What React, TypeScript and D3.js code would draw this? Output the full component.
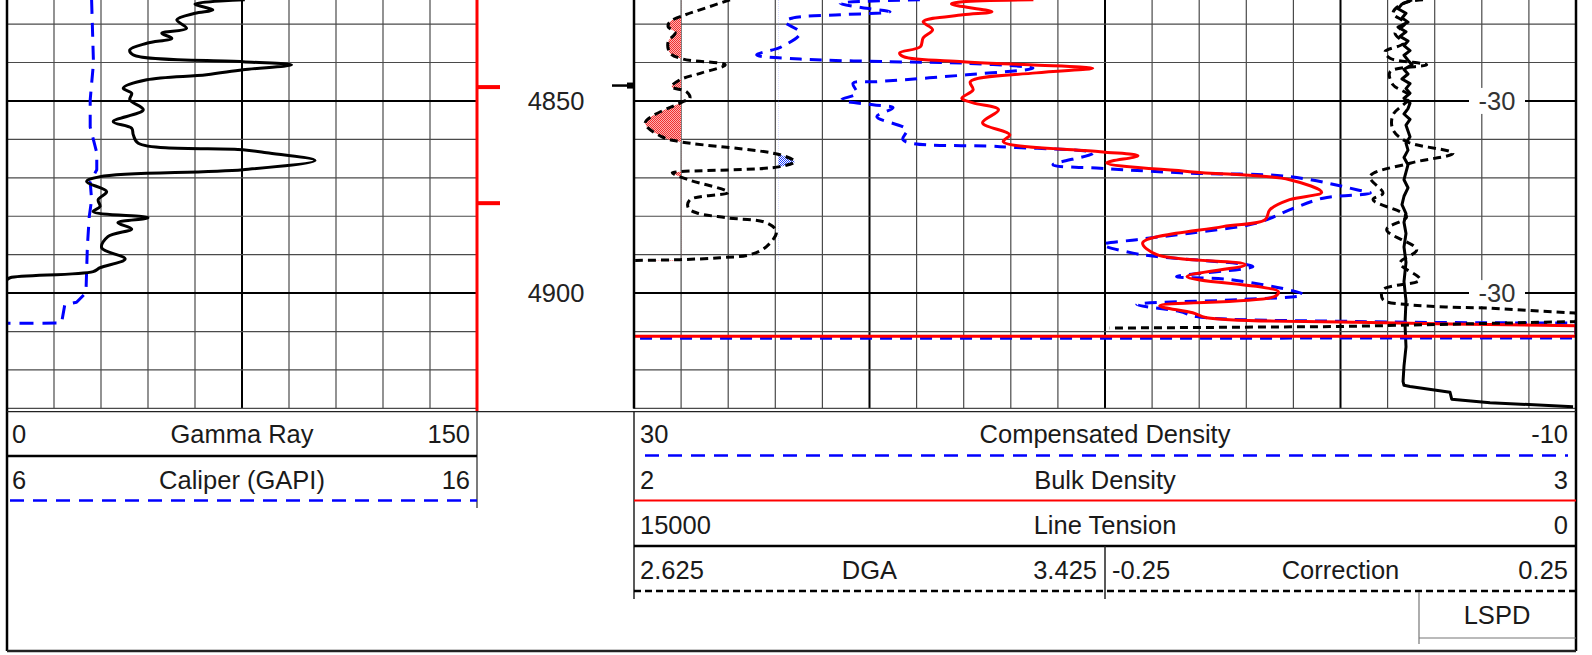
import React from 'react';
import * as d3 from 'd3';

// ---------------- DATA ----------------
const DEPTH_TOP = 4823.74;
const DEPTH_BOTTOM = 4930;
const depthGrid = d3.range(4830, 4931, 10);
const depthMajor = [4850, 4900];
const depthLabels = [4850, 4900];
const redFlagDepths = [4846.4, 4876.6];
const blackFlagDepths = [4846.0];
const rightLabelDepths = [4850, 4900];
const rightLabelText = '-30';

// [depth, value]
const gammaRay: [number, number][] = [
  [4823.7, 75.9], [4824.8, 60.0], [4826.3, 65.7], [4827.2, 60.0], [4828.9, 54.2], [4831.1, 57.3],
  [4832.4, 49.4], [4833.7, 52.6], [4835.0, 44.6], [4836.7, 39.2], [4838.0, 40.2], [4839.8, 75.3],
  [4840.6, 90.8], [4841.9, 75.3], [4843.2, 63.7], [4844.5, 44.6], [4846.7, 37.1], [4848.0, 39.8],
  [4849.7, 39.2], [4852.3, 43.5], [4855.4, 33.9], [4857.1, 39.8], [4858.8, 40.3], [4861.0, 41.9],
  [4862.7, 75.3], [4863.5, 82.9], [4865.5, 98.3], [4867.9, 75.3], [4869.7, 29.7], [4871.0, 25.4],
  [4873.6, 31.8], [4875.7, 29.1], [4877.5, 29.7], [4878.8, 27.5], [4880.4, 45.0], [4881.7, 35.4],
  [4883.3, 39.8], [4885.3, 32.2], [4888.2, 30.2], [4891.1, 37.7], [4893.4, 29.7], [4894.4, 27.5],
  [4896.0, 1.0], [4896.5, 0],
];

const caliper: [number, number][] = [
  [4823.7, 7.80], [4840.1, 7.84], [4849.7, 7.77], [4856.8, 7.77], [4863.5, 7.91], [4867.9, 7.91],
  [4871.1, 7.77], [4875.7, 7.80], [4880.1, 7.75], [4887.9, 7.71], [4899.9, 7.68], [4902.4, 7.48],
  [4903.0, 7.23], [4907.8, 7.16], [4907.85, 6.0],
];

const compDensity: [number, number][] = [
  [4823.7, 17.86], [4824.6, 21.25], [4825.9, 20.12], [4826.8, 19.13], [4827.6, 21.25], [4828.4, 23.25],
  [4829.4, 23.59], [4832.3, 22.95], [4835.9, 23.73], [4838.0, 24.79], [4839.1, 22.95], [4839.8, 19.13],
  [4840.2, 15.87], [4841.5, 13.06], [4843.2, 15.87], [4845.0, 19.69], [4845.4, 20.70], [4848.0, 20.54],
  [4849.7, 21.18], [4851.0, 19.85], [4851.8, 19.0], [4854.1, 19.69], [4857.5, 18.42], [4860.1, 18.58],
  [4861.9, 14.46], [4863.6, 10.51], [4866.6, 12.21], [4867.5, 10.21], [4867.9, 9.24], [4868.8, 6.39],
  [4869.7, 2.14], [4873.1, -0.69], [4874.0, -1.27], [4875.3, 0.74], [4878.3, 2.14], [4881.8, 3.56],
  [4884.4, 6.39], [4886.1, 8.65], [4887.4, 10.08], [4889.6, 8.81], [4890.5, 7.81], [4893.1, 3.72],
  [4895.7, 6.96], [4896.5, 4.69], [4900.4, 1.59], [4901.7, 4.27], [4903.0, 8.65], [4904.8, 6.82],
  [4906.1, 6.11], [4907.4, -0.69], [4907.8, -10.0], [4911.7, -10.0], [4911.75, 30.0],
];
const compDensityWrapPoints = 3;

const bulkDensity: [number, number][] = [
  [4823.7, 2.424], [4824.2, 2.349], [4824.8, 2.337], [4826.8, 2.380], [4827.6, 2.349], [4829.4, 2.307],
  [4831.5, 2.317], [4833.6, 2.307], [4835.9, 2.304], [4837.5, 2.282], [4838.5, 2.286], [4839.8, 2.349],
  [4840.6, 2.420], [4841.5, 2.487], [4842.7, 2.427], [4845.0, 2.357], [4847.1, 2.360], [4849.3, 2.348],
  [4850.5, 2.360], [4852.3, 2.387], [4855.7, 2.370], [4858.8, 2.399], [4860.6, 2.392], [4863.2, 2.495],
  [4864.3, 2.535], [4866.1, 2.502], [4868.4, 2.590], [4870.5, 2.696], [4873.8, 2.730], [4875.7, 2.696],
  [4878.3, 2.675], [4880.9, 2.670], [4882.7, 2.625], [4886.9, 2.540], [4890.0, 2.555], [4892.6, 2.649],
  [4895.7, 2.587], [4899.6, 2.684], [4900.9, 2.680], [4903.3, 2.558], [4905.1, 2.593], [4906.4, 2.608],
  [4907.6, 2.767], [4908.5, 3.0], [4911.2, 3.0], [4911.25, 2.0],
];
const bulkDensityWrapPoints = 3;

const lineTension: [number, number][] = [
  [4823.7, 2611], [4824.8, 2771], [4826.0, 2834], [4827.2, 2707], [4828.4, 2771], [4829.5, 2675],
  [4830.8, 2834], [4832.0, 2707], [4833.2, 2802], [4834.4, 2675], [4835.6, 2739], [4836.9, 2643],
  [4838.1, 2739], [4839.4, 2675], [4840.6, 2611], [4841.8, 2739], [4843.0, 2675], [4844.3, 2771],
  [4845.5, 2643], [4846.8, 2707], [4848.0, 2643], [4849.3, 2739], [4850.6, 2643], [4852.0, 2675],
  [4853.4, 2739], [4854.8, 2643], [4856.3, 2707], [4857.8, 2675], [4859.3, 2643], [4861.0, 2707],
  [4862.8, 2675], [4864.7, 2739], [4866.6, 2675], [4868.5, 2707], [4870.5, 2739], [4872.6, 2675],
  [4874.8, 2739], [4877.0, 2771], [4879.3, 2707], [4881.6, 2739], [4884.5, 2707], [4888.0, 2739],
  [4892.0, 2707], [4897.0, 2739], [4902.0, 2707], [4908.0, 2723], [4914.0, 2707], [4919.0, 2739],
  [4923.0, 2754], [4924.0, 2739], [4924.3, 2643], [4925.8, 2006], [4927.6, 1979], [4928.5, 1369],
  [4929.6, 47],
];

const dga: [number, number][] = [
  [4823.7, 2.788], [4826.3, 2.737], [4827.6, 2.712], [4829.4, 2.686], [4830.7, 2.683], [4832.3, 2.695],
  [4834.6, 2.683], [4837.5, 2.686], [4839.1, 2.708], [4840.6, 2.780], [4842.7, 2.740], [4844.5, 2.703],
  [4846.3, 2.689], [4847.6, 2.714], [4849.3, 2.720], [4850.2, 2.708], [4855.7, 2.644], [4859.3, 2.672],
  [4860.6, 2.703], [4864.0, 2.873], [4865.8, 2.898], [4867.1, 2.873], [4868.4, 2.703], [4868.7, 2.690],
  [4870.5, 2.717], [4873.8, 2.785], [4875.7, 2.720], [4877.8, 2.717], [4879.1, 2.731], [4880.4, 2.782],
  [4881.7, 2.850], [4884.0, 2.867], [4887.9, 2.850], [4890.0, 2.822], [4890.8, 2.771], [4891.3, 2.703],
  [4891.5, 2.627],
];
const dgaLowCutoff = 2.705;
const dgaHighCutoff = 2.87;

const correction: [number, number][] = [
  [4823.7, 0.0876], [4824.6, 0.0664], [4827.2, 0.0557], [4829.8, 0.0685], [4832.4, 0.0579],
  [4835.0, 0.0664], [4837.2, 0.0472], [4838.9, 0.0526], [4840.6, 0.0915], [4842.4, 0.0526],
  [4845.8, 0.0557], [4848.9, 0.0738], [4853.6, 0.0557], [4857.5, 0.0557], [4860.6, 0.0703],
  [4863.6, 0.1194], [4866.2, 0.0738], [4869.7, 0.0313], [4874.0, 0.0451], [4875.7, 0.0345],
  [4880.1, 0.0703], [4883.5, 0.0490], [4888.7, 0.0809], [4892.2, 0.0632], [4896.5, 0.0844],
  [4899.1, 0.0451], [4901.7, 0.0451], [4903.0, 0.0703], [4903.9, 0.1587], [4905.2, 0.25],
  [4907.4, 0.25], [4908.7, 0.0], [4909.1, -0.245],
];
const correctionWrapPoints = 5;

// ---------------- LAYOUT ----------------
const W = 1592;
const H = 655;
const LT = { x0: 7, x1: 477 };
const RT = { x0: 634, x1: 1576 };
const MID = 1105;
const TRACK_BOTTOM = 408.4;
const HEADER_TOP = 411.7;
const FRAME_BOTTOM = 651;
const FONT = "'Liberation Sans', Arial, Helvetica, sans-serif";
const FS = 25.5;
const TXT = '#1a1a1a';

const y = d3.scaleLinear().domain([DEPTH_TOP, DEPTH_BOTTOM]).range([0, TRACK_BOTTOM]);
const grX = d3.scaleLinear().domain([0, 150]).range([LT.x0, LT.x1]);
const calX = d3.scaleLinear().domain([6, 16]).range([LT.x0, LT.x1]);
const cdX = d3.scaleLinear().domain([30, -10]).range([RT.x0, RT.x1]);
const rhobX = d3.scaleLinear().domain([2, 3]).range([RT.x0, RT.x1]);
const tensX = d3.scaleLinear().domain([15000, 0]).range([RT.x0, RT.x1]);
const dgaX = d3.scaleLinear().domain([2.625, 3.425]).range([RT.x0, MID]);
const corrX = d3.scaleLinear().domain([-0.25, 0.25]).range([MID, RT.x1]);

const smooth = d3.curveCatmullRom.alpha(0.5);
const mkLine = (sx: d3.ScaleLinear<number, number>, curve: any = smooth) =>
  d3.line<[number, number]>().x((d) => sx(d[1])).y((d) => y(d[0])).curve(curve);

// smooth body + straight wrap-around tail (no overshoot on the wrap)
const pathWithTail = (sx: d3.ScaleLinear<number, number>, data: [number, number][], tail: number) => {
  const n = data.length;
  const body = data.slice(0, n - tail + 1);
  const rest = data.slice(n - tail);
  const a = mkLine(sx)(body) || '';
  const b = (mkLine(sx, d3.curveLinear)(rest) || '').replace(/^M/, 'L');
  return a + b;
};

export default function App() {
  const leftGrid = d3.range(0, 151, 15);
  const rightGrid = d3.range(30, -10.01, -2);
  const dgaLowArea = d3
    .area<[number, number]>()
    .y((d) => y(d[0]))
    .x0(dgaX(dgaLowCutoff))
    .x1((d) => dgaX(d[1]))
    .curve(smooth);
  const dgaHighArea = d3
    .area<[number, number]>()
    .y((d) => y(d[0]))
    .x0(dgaX(dgaHighCutoff))
    .x1((d) => dgaX(d[1]))
    .curve(smooth);

  const hLine = (x0: number, x1: number, d: number, major: boolean, key: string) => (
    <line key={key} x1={x0} x2={x1} y1={y(d)} y2={y(d)}
      stroke={major ? '#000' : '#4a4a4a'} strokeWidth={major ? 2 : 1.2} />
  );

  const curveStyle = { fill: 'none', strokeWidth: 3, strokeLinejoin: 'round' as const, strokeLinecap: 'butt' as const };

  return (
    <svg width={W} height={H} style={{ position: 'absolute', left: 0, top: 0, background: '#fff' }}
      fontFamily={FONT}>
      <defs>
        <clipPath id="clipL"><rect x={LT.x0} y={0} width={LT.x1 - LT.x0} height={TRACK_BOTTOM} /></clipPath>
        <clipPath id="clipR"><rect x={RT.x0} y={0} width={RT.x1 - RT.x0} height={TRACK_BOTTOM} /></clipPath>
        <clipPath id="clipDGA"><rect x={RT.x0} y={0} width={MID - RT.x0} height={TRACK_BOTTOM} /></clipPath>
        <clipPath id="clipCorr"><rect x={MID} y={0} width={RT.x1 - MID} height={TRACK_BOTTOM} /></clipPath>
        <clipPath id="clipLow"><rect x={RT.x0} y={0} width={dgaX(dgaLowCutoff) - RT.x0} height={TRACK_BOTTOM} /></clipPath>
        <clipPath id="clipHigh"><rect x={dgaX(dgaHighCutoff)} y={0} width={MID - dgaX(dgaHighCutoff)} height={TRACK_BOTTOM} /></clipPath>
        <pattern id="pinkChk" width={2} height={2} patternUnits="userSpaceOnUse">
          <rect width={2} height={2} fill="#ffb0b0" />
          <rect width={1} height={1} fill="#ee3030" />
          <rect x={1} y={1} width={1} height={1} fill="#ee3030" />
        </pattern>
        <pattern id="blueChk" width={2} height={2} patternUnits="userSpaceOnUse">
          <rect width={2} height={2} fill="#fff" />
          <rect width={1} height={1} fill="#2040ff" />
          <rect x={1} y={1} width={1} height={1} fill="#2040ff" />
        </pattern>
      </defs>
      <rect x={0} y={0} width={W} height={H} fill="#fff" />

      {/* ---------- Left track grid ---------- */}
      {leftGrid.map((v) => (
        <line key={'lv' + v} x1={grX(v)} x2={grX(v)} y1={0} y2={TRACK_BOTTOM}
          stroke={v === 75 ? '#000' : '#4a4a4a'} strokeWidth={v === 75 ? 2 : 1.2} />
      ))}
      {depthGrid.map((d) => hLine(LT.x0, LT.x1, d, depthMajor.includes(d), 'lh' + d))}

      {/* ---------- Right track grid ---------- */}
      {rightGrid.map((v) => {
        const major = Math.abs(v % 10) < 1e-6;
        return (
          <line key={'rv' + v} x1={cdX(v)} x2={cdX(v)} y1={0} y2={TRACK_BOTTOM}
            stroke={major ? '#000' : '#4a4a4a'} strokeWidth={major ? 2 : 1.2} />
        );
      })}
      {depthGrid.map((d) => hLine(RT.x0, RT.x1, d, depthMajor.includes(d), 'rh' + d))}

      {/* right labels "-30" */}
      {rightLabelDepths.map((d) => (
        <g key={'rl' + d}>
          <rect x={1469} y={y(d) - 13} width={56} height={26} fill="#fff" />
          <text x={1497} y={y(d) + 9} fontSize={FS} textAnchor="middle" fill="#333">{rightLabelText}</text>
        </g>
      ))}

      {/* ---------- DGA fills ---------- */}
      <g clipPath="url(#clipLow)">
        <path d={dgaLowArea(dga) || ''} fill="url(#pinkChk)" />
      </g>
      <g clipPath="url(#clipHigh)">
        <path d={dgaHighArea(dga) || ''} fill="url(#blueChk)" />
      </g>

      {/* ---------- Curves ---------- */}
      <g clipPath="url(#clipL)">
        <path d={mkLine(calX, d3.curveLinear)(caliper) || ''} {...curveStyle} stroke="#0000ff" strokeDasharray="14,9" />
        <path d={mkLine(grX)(gammaRay) || ''} {...curveStyle} stroke="#000" />
      </g>
      <g clipPath="url(#clipR)">
        <path d={mkLine(tensX, d3.curveLinear)(lineTension) || ''} {...curveStyle} stroke="#000" />
        <path d={pathWithTail(cdX, compDensity, compDensityWrapPoints)} {...curveStyle} stroke="#0000ff" strokeDasharray="12,8" />
        <path d={pathWithTail(rhobX, bulkDensity, bulkDensityWrapPoints)} {...curveStyle} stroke="#ff0000" />
      </g>
      <g clipPath="url(#clipDGA)">
        <path d={mkLine(dgaX)(dga) || ''} {...curveStyle} stroke="#000" strokeDasharray="8,5" />
      </g>
      <g clipPath="url(#clipCorr)">
        <path d={pathWithTail(corrX, correction, correctionWrapPoints)} {...curveStyle} stroke="#000" strokeDasharray="8,5" />
      </g>

      {/* ---------- Depth track ---------- */}
      {depthLabels.map((d) => (
        <text key={'dl' + d} x={556} y={y(d) + 9} fontSize={FS} textAnchor="middle" fill="#222">{d}</text>
      ))}
      {redFlagDepths.map((d) => (
        <rect key={'rf' + d} x={LT.x1} y={y(d) - 2} width={23} height={4} fill="#ff0000" />
      ))}
      {blackFlagDepths.map((d) => (
        <g key={'bf' + d}>
          <line x1={612} x2={RT.x0} y1={y(d)} y2={y(d)} stroke="#000" strokeWidth={2.5} />
          <rect x={627} y={y(d) - 3} width={7} height={6} fill="#000" />
        </g>
      ))}

      {/* ---------- Track borders ---------- */}
      <line x1={LT.x1} x2={LT.x1} y1={0} y2={HEADER_TOP} stroke="#ff0000" strokeWidth={3} />
      <line x1={RT.x0} x2={RT.x0} y1={0} y2={TRACK_BOTTOM} stroke="#000" strokeWidth={2.5} />
      <line x1={LT.x0} x2={LT.x0} y1={0} y2={FRAME_BOTTOM} stroke="#000" strokeWidth={2.5} />
      <line x1={RT.x1} x2={RT.x1} y1={0} y2={FRAME_BOTTOM} stroke="#000" strokeWidth={2.5} />
      <line x1={LT.x0} x2={RT.x1} y1={FRAME_BOTTOM} y2={FRAME_BOTTOM} stroke="#222" strokeWidth={2.5} />
      <line x1={LT.x0} x2={RT.x1} y1={HEADER_TOP} y2={HEADER_TOP} stroke="#222" strokeWidth={1.2} />

      {/* ---------- Left header ---------- */}
      <line x1={LT.x1} x2={LT.x1} y1={HEADER_TOP} y2={508} stroke="#222" strokeWidth={1.2} />
      <text x={12} y={443} fontSize={FS} fill={TXT}>0</text>
      <text x={(LT.x0 + LT.x1) / 2} y={443} fontSize={FS} fill={TXT} textAnchor="middle">Gamma Ray</text>
      <text x={470} y={443} fontSize={FS} fill={TXT} textAnchor="end">150</text>
      <line x1={LT.x0} x2={LT.x1} y1={456} y2={456} stroke="#000" strokeWidth={2.6} />
      <text x={12} y={488.5} fontSize={FS} fill={TXT}>6</text>
      <text x={(LT.x0 + LT.x1) / 2} y={488.5} fontSize={FS} fill={TXT} textAnchor="middle">Caliper (GAPI)</text>
      <text x={470} y={488.5} fontSize={FS} fill={TXT} textAnchor="end">16</text>
      <line x1={LT.x0 + 3} x2={LT.x1} y1={500.5} y2={500.5} stroke="#0000ff" strokeWidth={2.6} strokeDasharray="14,9" />

      {/* ---------- Right header ---------- */}
      <line x1={RT.x0} x2={RT.x0} y1={HEADER_TOP} y2={599} stroke="#222" strokeWidth={1.5} />
      <text x={640} y={443} fontSize={FS} fill={TXT}>30</text>
      <text x={MID} y={443} fontSize={FS} fill={TXT} textAnchor="middle">Compensated Density</text>
      <text x={1568} y={443} fontSize={FS} fill={TXT} textAnchor="end">-10</text>
      <line x1={645} x2={1568} y1={455.5} y2={455.5} stroke="#0000ff" strokeWidth={2.6} strokeDasharray="14,9" />

      <text x={640} y={488.5} fontSize={FS} fill={TXT}>2</text>
      <text x={MID} y={488.5} fontSize={FS} fill={TXT} textAnchor="middle">Bulk Density</text>
      <text x={1568} y={488.5} fontSize={FS} fill={TXT} textAnchor="end">3</text>
      <line x1={RT.x0} x2={RT.x1} y1={500.5} y2={500.5} stroke="#ff0000" strokeWidth={2.2} />

      <text x={640} y={533.5} fontSize={FS} fill={TXT}>15000</text>
      <text x={MID} y={533.5} fontSize={FS} fill={TXT} textAnchor="middle">Line Tension</text>
      <text x={1568} y={533.5} fontSize={FS} fill={TXT} textAnchor="end">0</text>
      <line x1={RT.x0} x2={RT.x1} y1={546} y2={546} stroke="#000" strokeWidth={2.6} />

      <line x1={MID} x2={MID} y1={546} y2={599} stroke="#222" strokeWidth={1.5} />
      <text x={640} y={578.5} fontSize={FS} fill={TXT}>2.625</text>
      <text x={(RT.x0 + MID) / 2} y={578.5} fontSize={FS} fill={TXT} textAnchor="middle">DGA</text>
      <text x={1097} y={578.5} fontSize={FS} fill={TXT} textAnchor="end">3.425</text>
      <text x={1112} y={578.5} fontSize={FS} fill={TXT}>-0.25</text>
      <text x={(MID + RT.x1) / 2} y={578.5} fontSize={FS} fill={TXT} textAnchor="middle">Correction</text>
      <text x={1568} y={578.5} fontSize={FS} fill={TXT} textAnchor="end">0.25</text>
      <line x1={RT.x0} x2={RT.x1} y1={591} y2={591} stroke="#000" strokeWidth={2.6} strokeDasharray="7,4" />

      {/* LSPD box */}
      <line x1={1419} x2={1419} y1={592} y2={644} stroke="#777" strokeWidth={1.2} />
      <line x1={1419} x2={RT.x1} y1={638} y2={638} stroke="#777" strokeWidth={1.2} />
      <text x={1497} y={623.5} fontSize={FS} fill={TXT} textAnchor="middle">LSPD</text>
    </svg>
  );
}
